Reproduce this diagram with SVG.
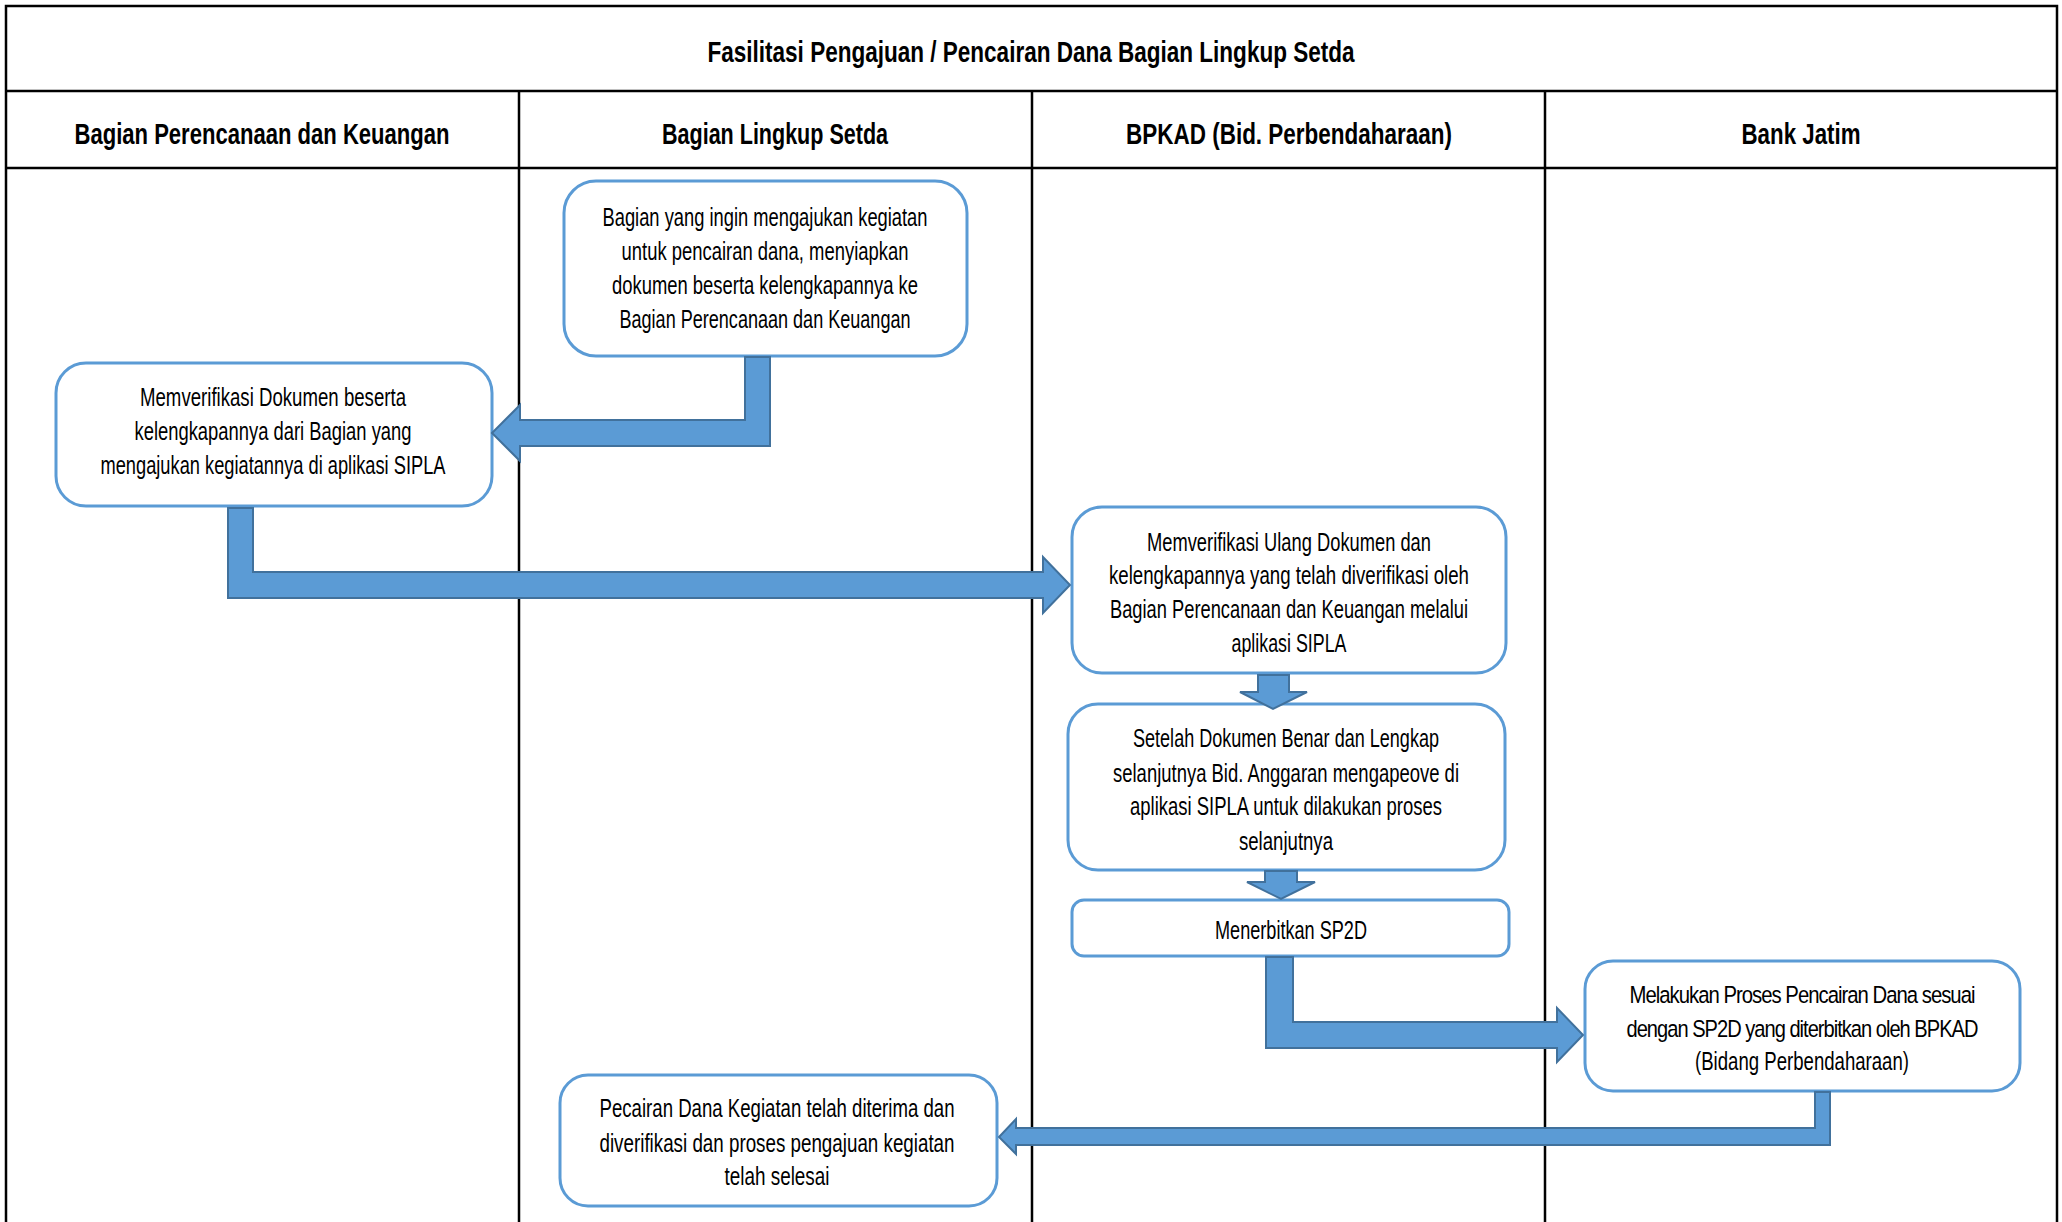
<svg xmlns="http://www.w3.org/2000/svg" width="2062" height="1222" viewBox="0 0 2062 1222">
<style>
.grid{stroke:#000;stroke-width:2.5;fill:none}
.hd{font-family:"Liberation Sans",Arial,sans-serif;font-weight:bold;font-size:30px;fill:#000;text-anchor:middle}
.tx{font-family:"Liberation Sans",Arial,sans-serif;font-size:26px;fill:#000;text-anchor:middle}
.tight{font-size:24.5px;letter-spacing:-1.2px}
.box{fill:#fff;stroke:#5B9BD5;stroke-width:3}
.arr{fill:#5B9BD5;stroke:#41719C;stroke-width:2;stroke-linejoin:miter}
</style>
<rect width="2062" height="1222" fill="#fff"/>
<g id="table">
<path class="grid" d="M6,1222 V6 H2057 V1222 M6,91 H2057 M6,168 H2057 M519,91 V1222 M1032,91 V1222 M1545,91 V1222"/>
<text class="hd" x="1031" y="62" textLength="647" lengthAdjust="spacingAndGlyphs">Fasilitasi Pengajuan / Pencairan Dana Bagian Lingkup Setda</text>
<text class="hd" x="262" y="144" textLength="375" lengthAdjust="spacingAndGlyphs">Bagian Perencanaan dan Keuangan</text>
<text class="hd" x="775" y="144" textLength="226" lengthAdjust="spacingAndGlyphs">Bagian Lingkup Setda</text>
<text class="hd" x="1289" y="144" textLength="326" lengthAdjust="spacingAndGlyphs">BPKAD (Bid. Perbendaharaan)</text>
<text class="hd" x="1801" y="144" textLength="119" lengthAdjust="spacingAndGlyphs">Bank Jatim</text>
</g>
<g id="nodeA">
<rect class="box" x="564" y="181" width="403" height="175" rx="32"/>
<text class="tx" x="765" y="226" textLength="325" lengthAdjust="spacingAndGlyphs">Bagian yang ingin mengajukan kegiatan</text>
<text class="tx" x="765" y="260" textLength="287" lengthAdjust="spacingAndGlyphs">untuk pencairan dana, menyiapkan</text>
<text class="tx" x="765" y="294" textLength="306" lengthAdjust="spacingAndGlyphs">dokumen beserta kelengkapannya ke</text>
<text class="tx" x="765" y="328" textLength="291" lengthAdjust="spacingAndGlyphs">Bagian Perencanaan dan Keuangan</text>
</g>
<g id="nodeB">
<rect class="box" x="56" y="363" width="436" height="143" rx="30"/>
<text class="tx" x="273" y="406" textLength="266" lengthAdjust="spacingAndGlyphs">Memverifikasi Dokumen beserta</text>
<text class="tx" x="273" y="440" textLength="277" lengthAdjust="spacingAndGlyphs">kelengkapannya dari Bagian yang</text>
<text class="tx" x="273" y="474" textLength="345" lengthAdjust="spacingAndGlyphs">mengajukan kegiatannya di aplikasi SIPLA</text>
</g>
<g id="nodeC">
<rect class="box" x="1072" y="507" width="434" height="166" rx="30"/>
<text class="tx" x="1289" y="551" textLength="284" lengthAdjust="spacingAndGlyphs">Memverifikasi Ulang Dokumen dan</text>
<text class="tx" x="1289" y="584" textLength="360" lengthAdjust="spacingAndGlyphs">kelengkapannya yang telah diverifikasi oleh</text>
<text class="tx" x="1289" y="618" textLength="358" lengthAdjust="spacingAndGlyphs">Bagian Perencanaan dan Keuangan melalui</text>
<text class="tx" x="1289" y="652" textLength="115" lengthAdjust="spacingAndGlyphs">aplikasi SIPLA</text>
</g>
<g id="nodeD">
<rect class="box" x="1068" y="704" width="437" height="166" rx="30"/>
<text class="tx" x="1286" y="747" textLength="306" lengthAdjust="spacingAndGlyphs">Setelah Dokumen Benar dan Lengkap</text>
<text class="tx" x="1286" y="782" textLength="346" lengthAdjust="spacingAndGlyphs">selanjutnya Bid. Anggaran mengapeove di</text>
<text class="tx" x="1286" y="815" textLength="312" lengthAdjust="spacingAndGlyphs">aplikasi SIPLA untuk dilakukan proses</text>
<text class="tx" x="1286" y="850" textLength="94" lengthAdjust="spacingAndGlyphs">selanjutnya</text>
</g>
<g id="nodeE">
<rect class="box" x="1072" y="900" width="437" height="56" rx="12"/>
<text class="tx" x="1291" y="939" textLength="152" lengthAdjust="spacingAndGlyphs">Menerbitkan SP2D</text>
</g>
<g id="nodeF">
<rect class="box" x="1585" y="961" width="435" height="130" rx="28"/>
<text class="tx tight" x="1802" y="1003" textLength="345" lengthAdjust="spacingAndGlyphs">Melakukan Proses Pencairan Dana sesuai</text>
<text class="tx tight" x="1802" y="1037" textLength="351" lengthAdjust="spacingAndGlyphs">dengan SP2D yang diterbitkan oleh BPKAD</text>
<text class="tx" x="1802" y="1070" textLength="214" lengthAdjust="spacingAndGlyphs">(Bidang Perbendaharaan)</text>
</g>
<g id="nodeG">
<rect class="box" x="560" y="1075" width="437" height="131" rx="28"/>
<text class="tx" x="777" y="1117" textLength="355" lengthAdjust="spacingAndGlyphs">Pecairan Dana Kegiatan telah diterima dan</text>
<text class="tx" x="777" y="1152" textLength="355" lengthAdjust="spacingAndGlyphs">diverifikasi dan proses pengajuan kegiatan</text>
<text class="tx" x="777" y="1185" textLength="105" lengthAdjust="spacingAndGlyphs">telah selesai</text>
</g>
<g id="connectors">
<polygon class="arr" points="745,357 770,357 770,446 520,446 520,461 492,433 520,405 520,420 745,420"/>
<polygon class="arr" points="228,508 253,508 253,572 1043,572 1043,557 1070,585 1043,613 1043,598 228,598"/>
<polygon class="arr" points="1258,675 1289,675 1289,692 1307,692 1273,709 1240,692 1258,692"/>
<polygon class="arr" points="1265,871 1297,871 1297,882 1315,882 1281,899 1247,882 1265,882"/>
<polygon class="arr" points="1266,957 1293,957 1293,1022 1557,1022 1557,1008 1583,1035 1557,1062 1557,1048 1266,1048"/>
<polygon class="arr" points="1830,1092 1830,1145 1016,1145 1016,1154 999,1137 1016,1119 1016,1128 1815,1128 1815,1092"/>
</g>
</svg>
